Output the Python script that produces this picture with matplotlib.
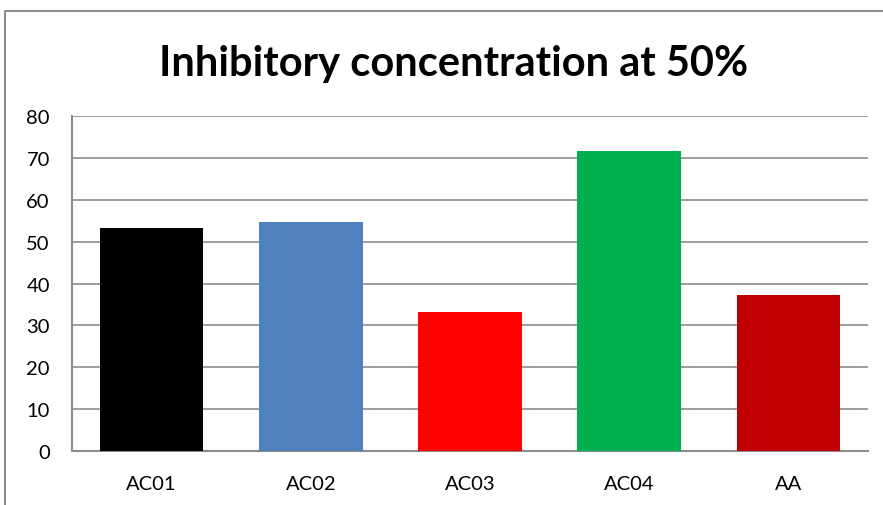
import matplotlib
matplotlib.use("Agg")
import matplotlib.pyplot as plt
from matplotlib.lines import Line2D

categories = ["AC01", "AC02", "AC03", "AC04", "AA"]
values = [53.2, 54.6, 33.3, 71.7, 37.2]
colors = ["#000000", "#4F81BD", "#FF0000", "#00B050", "#C00000"]
yticks = [0, 10, 20, 30, 40, 50, 60, 70, 80]
title = "Inhibitory concentration at 50%"

W, H = 883, 506
fig = plt.figure(figsize=(W / 100, H / 100), dpi=100)
fig.patch.set_facecolor("white")

ax = fig.add_axes([72 / W, (H - 452) / H, (868 - 72) / W, (452 - 117) / H])
x = list(range(len(categories)))
ax.bar(x, values, width=0.65, color=colors, zorder=3)
ax.set_xlim(-0.5, len(categories) - 0.5)
ax.set_ylim(0, 80)
ax.set_yticks(yticks)
ax.set_yticklabels([str(t) for t in yticks], fontsize=14.5, family="Lato")
ax.set_xticks(x)
ax.set_xticklabels(categories, fontsize=14.5, family="Lato")
ax.tick_params(axis="x", length=0, pad=17)
ax.tick_params(axis="y", length=0, pad=16)
ax.grid(axis="y", color="#8C8C8C", linewidth=1.2, zorder=0)
for side in ["top", "right"]:
    ax.spines[side].set_visible(False)
for side in ["left", "bottom"]:
    ax.spines[side].set_color("#8C8C8C")
    ax.spines[side].set_linewidth(1.5)

fig.text(454 / W, 1 - 64 / H, title, ha="center", va="center",
         fontsize=30, fontweight="bold", family="Lato")

# outer chart border (clipped at right and bottom)
fig.add_artist(Line2D([5 / W, 5 / W, 1.0], [0.0, 1 - 12 / H, 1 - 12 / H],
                      transform=fig.transFigure, color="#8C8C8C", linewidth=1.5))

fig.savefig("out.png", dpi=100)
